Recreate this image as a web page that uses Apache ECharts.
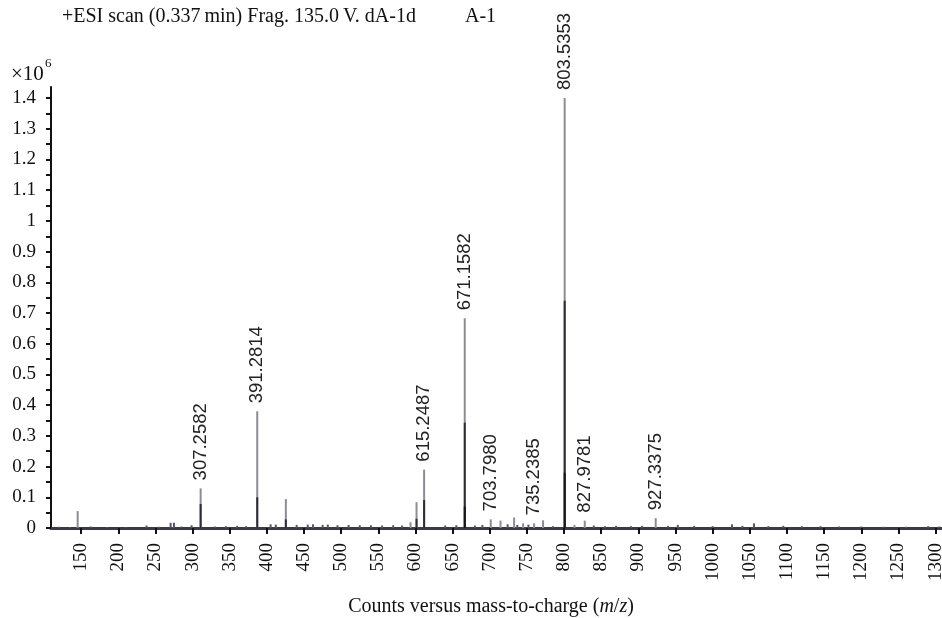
<!DOCTYPE html>
<html><head><meta charset="utf-8">
<script src="https://cdn.jsdelivr.net/npm/echarts@6/dist/echarts.min.js"></script>
<style>html,body{margin:0;padding:0;background:#fff}#c{width:942px;height:618px}</style>
</head><body><div id="c"></div>
<script>
// m/z positions (as drawn) and intensities (x10^6 counts)
const peakMz     = [145.3, 310.8, 387.0, 425.5, 593.3, 601.4, 611.6, 666.3, 701.3, 714.4, 732.7, 744.8, 759.6, 771.7, 800.8, 814.0, 827.8, 923.3];
const peakTop    = [0.055, 0.129, 0.380, 0.094, 0.019, 0.084, 0.190, 0.683, 0.028, 0.024, 0.034, 0.015, 0.015, 0.025, 1.400, 0.010, 0.024, 0.032];
const peakMid    = [0.000, 0.078, 0.100, 0.028, 0.000, 0.030, 0.091, 0.343, 0.000, 0.000, 0.000, 0.000, 0.000, 0.000, 0.740, 0.000, 0.000, 0.000];
const peakLow    = [0.000, 0.000, 0.000, 0.000, 0.000, 0.000, 0.000, 0.070, 0.000, 0.000, 0.000, 0.000, 0.000, 0.000, 0.180, 0.000, 0.000, 0.000];
const peakLabels = ['', '307.2582', '391.2814', '', '', '', '615.2487', '671.1582', '703.7980', '', '', '', '735.2385', '', '803.5353', '', '827.9781', '927.3375'];
// low-level baseline peaks
const noiseMz  = [120, 135, 162.8, 185, 210, 238, 255, 270.4, 274.9, 285, 298.6, 330, 345, 360, 372, 405, 412, 440, 455, 462, 475, 482, 495, 510, 525, 540, 555, 570, 582, 640, 655, 680, 690, 724, 737, 752, 785, 840, 855, 870, 890, 905, 940, 953, 975, 1000, 1026, 1040, 1055.6, 1075, 1095, 1120, 1145, 1170, 1200, 1230, 1260, 1290, 1305];
const noiseVal = [0.004, 0.003, 0.005, 0.003, 0.003, 0.008, 0.004, 0.017, 0.017, 0.005, 0.009, 0.005, 0.006, 0.007, 0.006, 0.012, 0.011, 0.010, 0.011, 0.012, 0.010, 0.011, 0.009, 0.010, 0.009, 0.009, 0.008, 0.009, 0.008, 0.008, 0.009, 0.008, 0.010, 0.012, 0.010, 0.011, 0.006, 0.008, 0.006, 0.007, 0.006, 0.007, 0.007, 0.010, 0.007, 0.006, 0.012, 0.007, 0.015, 0.006, 0.007, 0.006, 0.006, 0.005, 0.005, 0.004, 0.004, 0.006, 0.005];
const xTicks = [150,200,250,300,350,400,450,500,550,600,650,700,750,800,850,900,950,1000,1050,1100,1150,1200,1250,1300];
const yLabelTicks = [0,0.1,0.2,0.3,0.4,0.5,0.6,0.7,0.8,0.9,1,1.1,1.2,1.3,1.4];
const yMinorTicks = [0,0.05,0.1,0.15,0.2,0.25,0.3,0.35,0.4,0.45,0.5,0.55,0.6,0.65,0.7,0.75,0.8,0.85,0.9,0.95,1,1.05,1.1,1.15,1.2,1.25,1.3,1.35,1.4];

const serif = '"Liberation Serif", "DejaVu Serif", serif';
const sans = '"Liberation Sans", Arial, sans-serif';

const lightData = peakMz.map((m, i) => ({
  value: [m, peakTop[i]],
  label: peakLabels[i] ? {show: true, formatter: peakLabels[i]} : {show: false}
}));
const midData = peakMz.map((m, i) => [m, peakMid[i]]).filter(d => d[1] > 0);
const lowData = peakMz.map((m, i) => [m, peakLow[i]]).filter(d => d[1] > 0);
const noiseData = noiseMz.map((m, i) => [m, noiseVal[i]]);

const chart = echarts.init(document.getElementById('c'), null, {renderer: 'canvas'});
chart.setOption({
  animation: false,
  backgroundColor: '#fff',
  title: [
    {text: '+ESI scan (0.337\u2009min) Frag. 135.0\u2009V. dA-1d', left: 57, top: 2,
     textStyle: {fontFamily: serif, fontSize: 20, fontWeight: 'normal', color: '#111'}},
    {text: 'A-1', left: 460, top: 2,
     textStyle: {fontFamily: serif, fontSize: 20, fontWeight: 'normal', color: '#111'}}
  ],
  graphic: [
    {type: 'text', left: 11, top: 64, style: {text: '\u00d710', font: '21px ' + serif, fill: '#111'}},
    {type: 'text', left: 45, top: 57, style: {text: '6', font: '13px ' + serif, fill: '#111'}}
  ],
  grid: {left: 51, top: 87, width: 892, bottom: 90, containLabel: false, outerBoundsMode: 'none'},
  xAxis: {
    type: 'value', min: 109.4, max: 1310,
    axisLine: {show: true, lineStyle: {color: '#3a3a44', width: 3}},
    axisTick: {show: true, customValues: xTicks, length: 6, lineStyle: {color: '#111', width: 2}},
    axisLabel: {customValues: xTicks, rotate: 90, margin: 15, fontFamily: serif, fontSize: 19, color: '#111',
                formatter: v => String(v)},
    splitLine: {show: false},
    name: '{n|Counts versus mass-to-charge (}{i|m}{n|/}{i|z}{n|)}',
    nameLocation: 'middle', nameGap: 69,
    nameTextStyle: {padding: [0, 12, 0, 0],
                    rich: {n: {fontFamily: serif, fontSize: 20, color: '#111'},
                           i: {fontFamily: serif, fontSize: 20, fontStyle: 'italic', color: '#111'}}}
  },
  yAxis: {
    type: 'value', min: 0, max: 1.436,
    axisLine: {show: true, lineStyle: {color: '#111', width: 2}},
    axisTick: {show: true, customValues: yMinorTicks, length: 5, lineStyle: {color: '#111', width: 2}},
    axisLabel: {customValues: yLabelTicks, margin: 15, fontFamily: serif, fontSize: 19, color: '#111',
                formatter: v => String(Math.round(v * 10) / 10)},
    splitLine: {show: false}
  },
  series: [
    {type: 'bar', name: 'noise', data: noiseData, barWidth: 2, barGap: '-100%',
     itemStyle: {color: '#55556a'}, z: 2},
    {type: 'bar', name: 'light', data: lightData, barWidth: 2, barGap: '-100%',
     itemStyle: {color: '#8c8c98'}, z: 3,
     label: {position: 'top', rotate: 90, align: 'left', verticalAlign: 'middle', distance: 8,
             fontFamily: sans, fontSize: 18.5, color: '#222'}},
    {type: 'bar', name: 'mid', data: midData, barWidth: 2, barGap: '-100%',
     itemStyle: {color: '#2c2c38'}, z: 4},
    {type: 'bar', name: 'low', data: lowData, barWidth: 2, barGap: '-100%',
     itemStyle: {color: '#15151c'}, z: 5}
  ]
});
</script></body></html>
